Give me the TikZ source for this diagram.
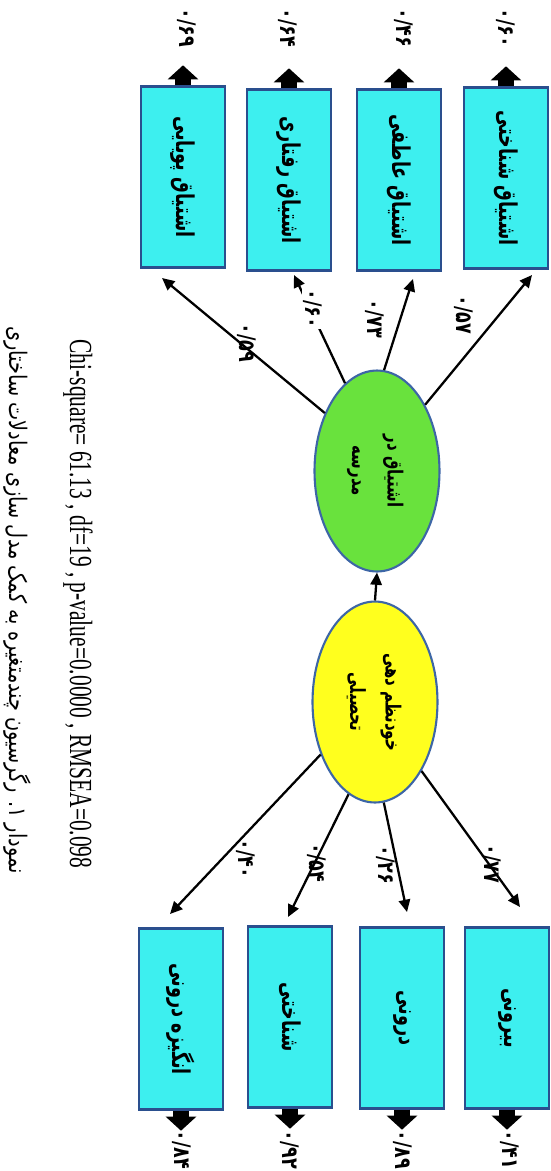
\documentclass[tikz,border=0pt]{standalone}
\usepackage{fontspec}
\setmainfont{Liberation Serif}
\newfontfamily\fa[Script=Arabic]{DejaVu Sans}
\TeXXeTstate=1
\usetikzlibrary{arrows.meta, shapes.geometric}

\definecolor{boxfill}{HTML}{3DEFEF}
\definecolor{boxline}{HTML}{2A4F8E}
\definecolor{ellline}{HTML}{3D66A6}
\definecolor{ellgreen}{HTML}{69E23D}
\definecolor{ellyellow}{HTML}{FFFF1E}

% Persian text turned to read from top to bottom
\newcommand{\fav}[1]{\rotatebox{-90}{\scalebox{1}[1.4]{\fa\bfseries\beginR #1\endR}}}
\newcommand{\favv}[2]{\rotatebox{-90}{\scalebox{1}[1.4]{\fa\bfseries
  \begin{tabular}{@{}c@{}}\beginR #1\endR\\ \beginR #2\endR\end{tabular}}}}

\begin{document}
\begin{tikzpicture}[x=0.02cm, y=-0.02cm,
	obs/.style={draw=boxline, fill=boxfill, line width=1.4pt, inner sep=0pt,
		minimum width=1.68cm, minimum height=3.62cm, font=\fontsize{10}{12}\selectfont},
	lat/.style={ellipse, draw=ellline, line width=1.2pt, inner sep=0pt,
		minimum width=2.5cm, minimum height=4.02cm, font=\fontsize{8.5}{14.5}\selectfont},
	path/.style={line width=1.3pt, -{Triangle[length=7pt, width=6.5pt]}},
	err/.style={line width=9pt, -{Triangle[length=8pt, width=17pt]}},
	coef/.style={rotate=-90, yscale=1.3, inner sep=0.5pt, font=\fontsize{10}{10}\selectfont\fa\bfseries}
]
	\useasboundingbox (0,0) rectangle (551,1171);
	
	% engagement indicators
	\node[obs] (bA) at (183,177) {\fav{اشتیاق پویایی}};
	\node[obs] (bB) at (289,180) {\fav{اشتیاق رفتاری}};
	\node[obs] (bC) at (399,180) {\fav{اشتیاق عاطفی}};
	\node[obs] (bD) at (506,178) {\fav{اشتیاق شناختی}};
	
	% motivation indicators
	\node[obs] (bE) at (181,1019) {\fav{انگیزه درونی}};
	\node[obs] (bF) at (290,1017) {\fav{شناختی}};
	\node[obs] (bG) at (402,1018) {\fav{درونی}};
	\node[obs] (bH) at (507,1018) {\fav{بیرونی}};
	
	% latent variables
	\node[lat, fill=ellgreen] (eng) at (377,471) {\favv{اشتیاق در}{مدرسه}};
	\node[lat, fill=ellyellow] (reg) at (375,702) {\favv{خودنظم دهی}{تحصیلی}};
	
	\draw[path] (reg.north) -- (eng.south);
	
	\coordinate (tA) at (162,278);
	\coordinate (tB) at (294,275);
	\coordinate (tC) at (413,279);
	\coordinate (tD) at (532,275);
	\coordinate (tE) at (170,914);
	\coordinate (tF) at (288,917);
	\coordinate (tG) at (407,912);
	\coordinate (tH) at (520,907);
	
	\draw[path] (eng.132) -- (tA);
	\draw[path] (eng.110) -- (tB);
	\draw[path] (eng.86) -- (tC);
	\draw[path] (eng.54) -- (tD);
	\draw[path] (reg.224) -- (tE);
	\draw[path] (reg.254) -- (tF);
	\draw[path] (reg.275) -- (tG);
	\draw[path] (reg.304) -- (tH);
	
	% loadings
	\node[coef] (lA) at (247,343) {۰/۵۹};
	\node[coef, fill=white] (lB) at (313,309) {۰/۶۰};
	\node[coef] (lC) at (375,319) {۰/۷۳};
	\node[coef] (lD) at (464,315) {۰/۵۷};
	\node[coef] (lE) at (246,859) {۰/۴۰};
	\node[coef] (lF) at (317,863) {۰/۵۴};
	\node[coef] (lG) at (386,865) {۰/۲۶};
	\node[coef] (lH) at (492,864) {۰/۷۷};
	
	% error terms
	\foreach \b/\v/\x in {bA/{۰/۶۹}/187, bB/{۰/۶۴}/288, bC/{۰/۴۶}/404, bD/{۰/۶۰}/506}{
		\draw[err] (\b.north) -- ++(0,-20);
		\node[coef] at (\x,28) {\v};
	}
	\foreach \b/\v/\x in {bE/{۰/۸۴}/182, bF/{۰/۹۲}/290, bG/{۰/۸۹}/403, bH/{۰/۴۱}/510}{
		\draw[err] (\b.south) -- ++(0,20);
		\node[coef] at (\x,1150) {\v};
	}
	
	% fit and caption
	\node[rotate=-90, yscale=1.5, font=\fontsize{12.2}{13}\selectfont] (fit) at (78,604)
		{Chi-square= 61.13 , df=19 , p-value=0.0000 , RMSEA=0.098};
	\node[rotate=-90, yscale=1.25, font=\fontsize{11}{12}\selectfont\fa] (cap) at (17,600)
		{\beginR نمودار ۱. رگرسیون چندمتغیره به کمک مدل سازی معادلات ساختاری\endR};
\end{tikzpicture}
\end{document}
